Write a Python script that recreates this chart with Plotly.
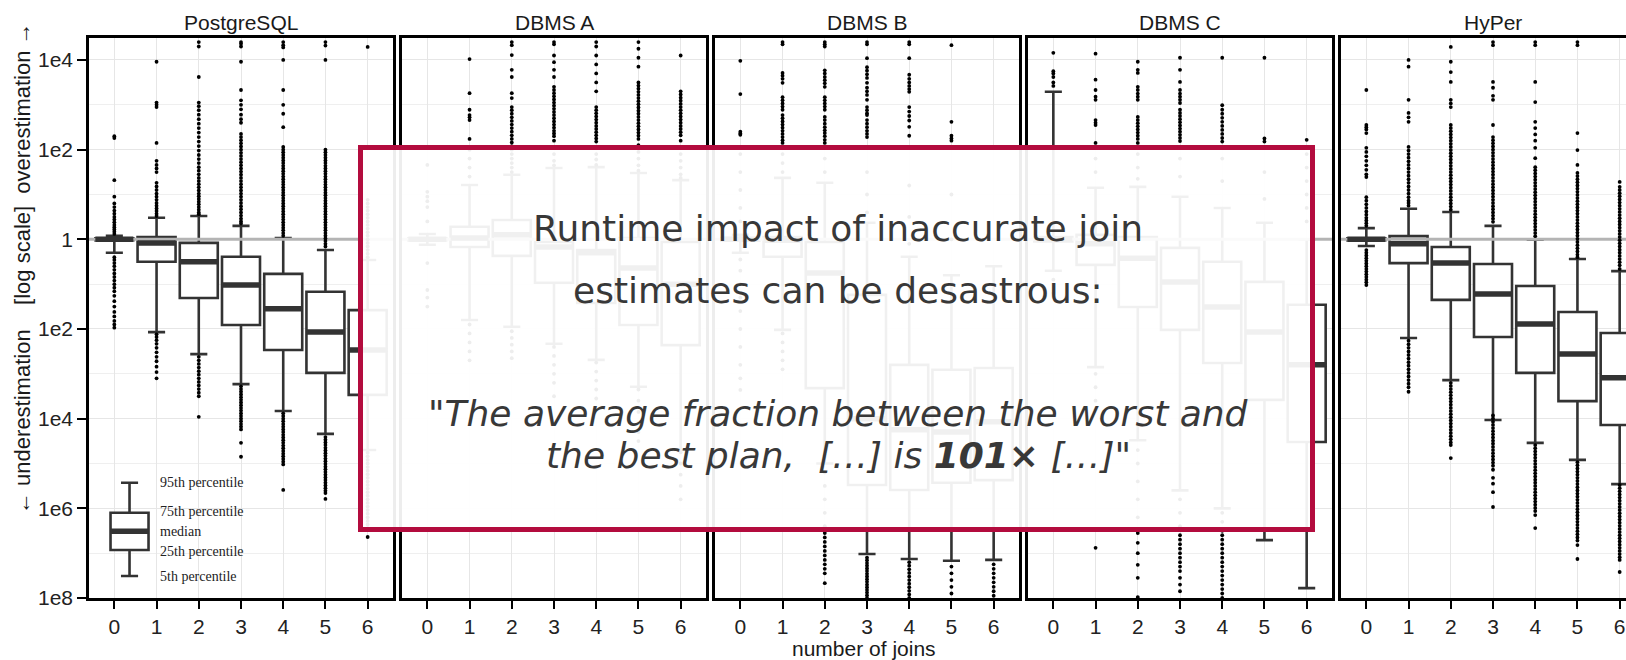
import plotly.graph_objects as go

# ---------------- data (log10 of estimate / true cardinality) ----------------
panels = ["PostgreSQL", "DBMS A", "DBMS B", "DBMS C", "HyPer"]
joins = [0, 1, 2, 3, 4, 5, 6]

pg_p05 = [-0.30, -2.07, -2.56, -3.23, -3.83, -4.34, -4.70]
pg_p25 = [-0.02, -0.50, -1.31, -1.91, -2.47, -2.98, -3.47]
pg_med = [0.00, -0.08, -0.50, -1.02, -1.55, -2.07, -2.47]
pg_p75 = [0.02, 0.05, -0.08, -0.39, -0.77, -1.17, -1.58]
pg_p95 = [0.08, 0.48, 0.52, 0.30, 0.03, -0.24, -0.46]

a_p05 = [-0.12, -1.80, -1.95, -2.33, -2.69, -3.29, -4.70]
a_p25 = [-0.02, -0.17, -0.37, -0.97, -1.42, -1.91, -2.36]
a_med = [0.00, 0.03, 0.10, -0.17, -0.30, -0.64, -1.00]
a_p75 = [0.02, 0.28, 0.43, -0.06, -0.24, 0.03, -0.06]
a_p95 = [0.12, 1.21, 1.44, 1.59, 1.61, 1.48, 1.32]

b_p05 = [-0.30, -2.02, -5.00, -7.02, -7.13, -7.17, -7.15]
b_p25 = [-0.03, -0.39, -3.32, -5.48, -5.59, -5.43, -5.37]
b_med = [0.00, -0.02, -0.75, -4.00, -4.25, -4.30, -4.07]
b_p75 = [0.03, 0.05, -0.06, -1.24, -2.80, -2.91, -2.87]
b_p95 = [0.10, 1.37, 1.26, 0.37, -0.39, -0.80, -0.60]

c_p05 = [-0.70, -2.85, -4.48, -5.60, -6.00, -6.71, -7.78]
c_p25 = [-0.05, -0.57, -1.51, -2.02, -2.76, -3.58, -4.52]
c_med = [0.00, -0.10, -0.42, -0.95, -1.51, -2.07, -2.80]
c_p75 = [0.05, 0.10, 0.05, -0.19, -0.50, -0.95, -1.46]
c_p95 = [3.29, 1.15, 1.17, 0.95, 0.70, 0.37, 0.00]

h_p05 = [-0.15, -2.20, -3.14, -4.03, -4.54, -4.92, -5.46]
h_p25 = [-0.02, -0.53, -1.35, -2.18, -2.98, -3.61, -4.14]
h_med = [0.00, -0.10, -0.53, -1.22, -1.89, -2.56, -3.09]
h_p75 = [0.02, 0.07, -0.17, -0.55, -1.04, -1.62, -2.09]
h_p95 = [0.25, 0.68, 0.61, 0.30, -0.01, -0.44, -0.71]

pg_out = [
    [2.30, 2.26, 1.32, 0.95, 0.80, 0.72, 0.64, 0.57, 0.50, 0.44, 0.38, 0.32, 0.27, 0.22, 0.17, 0.12,
     -0.40, -0.46, -0.53, -0.60, -0.68, -0.76, -0.84, -0.92, -1.00, -1.08, -1.16, -1.26, -1.38, -1.50,
     -1.62, -1.72, -1.82, -1.90, -1.97],
    [3.96, 3.05, 3.00, 2.95, 2.15, 1.75, 1.66, 1.58, 1.50, 1.26, 1.18, 1.10, 1.02, 0.95, 0.88, 0.81,
     0.75, 0.69, 0.63, 0.57, 0.52, -2.12, -2.18, -2.25, -2.33, -2.42, -2.52, -2.62, -2.72, -2.84,
     -2.96, -3.10],
    [4.40, 4.30, 3.62, 3.05, 2.97, 2.88, 2.78, 2.68, 2.58, 2.48, 2.38, 2.28, 2.18, 2.08, 1.98, 1.88,
     1.79, 1.70, 1.61, 1.53, 1.45, 1.37, 1.30, 1.23, 1.16, 1.09, 1.02, 0.96, 0.90, 0.84, 0.78, 0.72,
     0.66, 0.60, 0.56, -2.62, -2.70, -2.78, -2.86, -2.94, -3.02, -3.10, -3.18, -3.26, -3.34, -3.42,
     -3.50, -3.96],
    [4.40, 4.36, 4.30, 3.96, 3.33, 3.10, 3.00, 2.90, 2.78, 2.68, 2.60, 2.35, 2.28, 2.21, 2.14, 2.07,
     2.00, 1.93, 1.86, 1.79, 1.72, 1.65, 1.58, 1.51, 1.44, 1.37, 1.30, 1.23, 1.16, 1.09, 1.02, 0.95,
     0.88, 0.81, 0.74, 0.67, 0.60, 0.53, 0.46, 0.40, 0.35, -3.28, -3.34, -3.40, -3.46, -3.52, -3.58,
     -3.64, -3.70, -3.76, -3.82, -3.88, -3.94, -4.00, -4.06, -4.12, -4.18, -4.24, -4.54, -4.85],
    [4.40, 4.33, 4.28, 4.00, 3.33, 3.00, 2.80, 2.50, 2.06, 2.00, 1.94, 1.88, 1.82, 1.76, 1.70, 1.64,
     1.58, 1.52, 1.46, 1.40, 1.34, 1.28, 1.22, 1.16, 1.10, 1.04, 0.98, 0.92, 0.86, 0.80, 0.74, 0.68,
     0.62, 0.56, 0.50, 0.44, 0.38, 0.32, 0.26, 0.20, 0.14, 0.08, -3.88, -3.94, -4.00, -4.06, -4.12,
     -4.18, -4.24, -4.30, -4.36, -4.42, -4.48, -4.54, -4.60, -4.66, -4.72, -4.78, -4.84, -4.90,
     -4.96, -5.02, -5.59],
    [4.40, 4.32, 4.00, 2.00, 1.94, 1.88, 1.82, 1.76, 1.70, 1.64, 1.58, 1.52, 1.46, 1.40, 1.34, 1.28,
     1.22, 1.16, 1.10, 1.04, 0.98, 0.92, 0.86, 0.80, 0.74, 0.68, 0.62, 0.56, 0.50, 0.44, 0.38, 0.32,
     0.26, 0.20, 0.14, 0.08, 0.02, -0.04, -0.10, -0.16, -4.41, -4.47, -4.53, -4.59, -4.65, -4.71,
     -4.77, -4.83, -4.89, -4.95, -5.01, -5.07, -5.13, -5.19, -5.25, -5.31, -5.37, -5.43, -5.49,
     -5.55, -5.61, -5.66, -5.79],
    [4.29, 0.88, 0.80, 0.72, 0.64, 0.56, 0.48, 0.40, 0.32, 0.24, 0.16, 0.08, 0.00, -0.08, -0.16,
     -0.24, -0.32, -0.40, -4.76, -4.84, -4.92, -5.00, -5.08, -5.16, -5.24, -5.32, -5.40, -5.48,
     -5.56, -5.64, -5.72, -5.80, -5.88, -5.96, -6.04, -6.12, -6.20, -6.28, -6.36, -6.44, -6.64],
]

a_out = [
    [1.66, 1.06, 0.95, 0.85, 0.72, 0.40, -0.53, -1.13, -1.30, -1.50],
    [4.02, 3.26, 2.89, 2.77, 2.72, 2.66, 2.24, 2.00, 1.80, 1.60, 1.40, -1.90, -2.10, -2.30, -2.50,
     -2.70],
    [4.40, 4.33, 4.11, 3.78, 3.62, 3.26, 3.15, 2.95, 2.88, 2.80, 2.72, 2.64, 2.56, 2.48, 2.40, 2.32,
     2.24, 2.16, 2.08, 2.00, 1.90, 1.80, 1.70, 1.60, 1.50, -2.05, -2.20, -2.35, -2.50, -2.65],
    [4.40, 4.35, 4.10, 3.95, 3.78, 3.62, 3.40, 3.33, 3.26, 3.19, 3.12, 3.05, 2.98, 2.91, 2.84, 2.77,
     2.70, 2.63, 2.56, 2.49, 2.42, 2.36, 2.30, 2.20, 2.05, 1.90, 1.75, 1.65, -2.40, -2.60, -2.80,
     -3.00, -3.20, -3.50],
    [4.40, 4.30, 4.10, 3.90, 3.70, 3.50, 3.30, 2.95, 2.88, 2.81, 2.74, 2.67, 2.60, 2.53, 2.46, 2.39,
     2.32, 2.25, 2.18, 2.05, 1.90, 1.78, 1.66, -2.75, -2.95, -3.15, -3.35, -3.55, -3.80],
    [4.40, 4.25, 4.05, 3.85, 3.50, 3.43, 3.36, 3.29, 3.22, 3.15, 3.08, 3.01, 2.94, 2.87, 2.80, 2.73,
     2.66, 2.59, 2.52, 2.45, 2.38, 2.31, 2.24, 2.10, 1.95, 1.80, 1.65, 1.53, -3.35, -3.60, -3.85,
     -4.10, -4.30, -4.50],
    [4.10, 3.30, 3.23, 3.16, 3.09, 3.02, 2.95, 2.88, 2.81, 2.74, 2.67, 2.60, 2.53, 2.46, 2.39, 2.32,
     2.20, 2.05, 1.90, 1.75, 1.60, 1.45, 1.37, -4.75, -5.00, -5.25, -5.50, -5.80],
]

b_out = [
    [3.98, 3.24, 2.40, 2.36, 2.33, 1.90, 1.50, 1.10, 0.70, 0.40, -0.45, -0.70, -1.00, -1.30, -1.60,
     -2.00, -2.40, -2.80, -3.10, -3.36],
    [4.40, 4.35, 3.71, 3.65, 3.58, 3.49, 3.17, 3.10, 3.03, 2.96, 2.89, 2.77, 2.70, 2.63, 2.56, 2.49,
     2.42, 2.35, 2.28, 2.21, 2.15, 1.90, 1.70, 1.50, -2.10, -2.30, -2.50, -2.70, -2.90],
    [4.40, 4.35, 4.30, 3.77, 3.70, 3.62, 3.55, 3.48, 3.40, 3.17, 3.10, 3.03, 2.96, 2.89, 2.73, 2.66,
     2.58, 2.50, 2.43, 2.37, 2.30, 2.22, 2.15, 1.80, 1.50, -5.20, -5.50, -5.80, -6.10, -6.40, -6.55,
     -6.65, -6.75, -6.85, -6.95, -7.05, -7.15, -7.25, -7.35, -7.45, -7.67],
    [4.40, 4.35, 4.04, 3.84, 3.76, 3.68, 3.60, 3.49, 3.38, 3.30, 3.22, 3.11, 2.95, 2.88, 2.81, 2.77,
     2.66, 2.58, 2.50, 2.42, 2.35, 2.28, 1.50, 1.00, 0.60, -7.10, -7.16, -7.22, -7.28, -7.34, -7.40,
     -7.46, -7.52, -7.58, -7.64, -7.70, -7.76, -7.82, -7.88, -7.94, -8.00],
    [4.40, 4.35, 4.04, 3.67, 3.58, 3.50, 3.42, 3.35, 3.29, 2.95, 2.85, 2.75, 2.65, 2.51, 2.31, 1.20,
     0.50, -0.10, -7.20, -7.28, -7.36, -7.44, -7.52, -7.60, -7.68, -7.76, -7.84, -7.92, -8.00],
    [4.33, 2.62, 2.31, 2.25, 2.20, 1.00, 0.00, -7.30, -7.45, -7.60, -7.75, -7.90],
    [-7.25, -7.35, -7.45, -7.55, -7.65, -7.75, -7.85, -7.95],
]

c_out = [
    [4.16, 3.75, 3.70, 3.62, 3.50, 3.42, -0.90, -1.20],
    [4.14, 3.56, 3.33, 3.18, 3.11, 2.66, 2.60, 2.55, 2.15, 1.80, 1.50, -3.00, -3.30, -3.60, -6.88],
    [3.96, 3.78, 3.71, 3.40, 3.33, 3.25, 3.18, 3.11, 2.73, 2.66, 2.59, 2.52, 2.45, 2.38, 2.31, 2.24,
     2.15, 1.90, 1.60, 1.35, -4.70, -5.00, -5.40, -5.80, -6.20, -6.55, -6.77, -7.00, -7.26, -7.55,
     -7.98],
    [4.05, 3.78, 3.51, 3.33, 3.25, 3.18, 3.11, 3.04, 2.89, 2.82, 2.75, 2.68, 2.61, 2.54, 2.47, 2.40,
     2.33, 2.26, 2.19, 1.80, 1.40, -5.80, -6.10, -6.40, -6.60, -6.70, -6.80, -6.90, -7.00, -7.10,
     -7.20, -7.30, -7.40, -7.55, -7.70, -7.85],
    [4.05, 2.99, 2.89, 2.80, 2.71, 2.62, 2.53, 2.44, 2.35, 2.26, 2.18, 1.80, 1.30, -6.10, -6.30,
     -6.50, -6.60, -6.70, -6.80, -6.90, -7.00, -7.10, -7.20, -7.30, -7.40, -7.50, -7.60, -7.70,
     -7.80, -7.90, -8.00],
    [4.05, 2.25, 2.18, 1.50, 0.90],
    [2.22, 1.90, 1.60, 1.30, 1.00, 0.70, 0.40],
]

h_out = [
    [3.33, 2.55, 2.50, 2.45, 2.37, 2.04, 1.95, 1.85, 1.75, 1.65, 1.55, 1.45, 1.39, 0.94, 0.86, 0.78,
     0.70, 0.62, 0.55, 0.48, 0.42, 0.36, 0.30, -0.24, -0.30, -0.36, -0.42, -0.48, -0.54, -0.60,
     -0.66, -0.72, -0.78, -0.84, -0.90, -0.96, -1.02],
    [4.00, 3.85, 3.11, 2.82, 2.72, 2.62, 2.06, 1.98, 1.90, 1.82, 1.74, 1.66, 1.58, 1.50, 1.42, 1.34,
     1.26, 1.18, 1.10, 1.02, 0.94, 0.86, 0.81, 0.75, -2.26, -2.34, -2.42, -2.50, -2.58, -2.66,
     -2.74, -2.82, -2.90, -2.98, -3.06, -3.14, -3.22, -3.30, -3.40],
    [4.29, 3.96, 3.73, 3.51, 3.11, 3.03, 2.95, 2.55, 2.48, 2.41, 2.34, 2.27, 2.20, 2.13, 2.06, 1.99,
     1.92, 1.85, 1.78, 1.71, 1.64, 1.57, 1.50, 1.43, 1.36, 1.29, 1.22, 1.15, 1.08, 1.01, 0.94, 0.87,
     0.80, 0.73, 0.66, -3.20, -3.27, -3.34, -3.41, -3.48, -3.55, -3.62, -3.69, -3.76, -3.83, -3.90,
     -3.97, -4.04, -4.11, -4.18, -4.25, -4.32, -4.39, -4.46, -4.53, -4.59, -4.88],
    [4.40, 4.33, 3.51, 3.38, 3.20, 3.11, 2.55, 2.28, 2.21, 2.14, 2.07, 2.00, 1.93, 1.86, 1.79, 1.72,
     1.65, 1.58, 1.51, 1.44, 1.37, 1.30, 1.23, 1.16, 1.09, 1.02, 0.95, 0.88, 0.81, 0.74, 0.67, 0.60,
     0.53, 0.46, 0.39, -3.93, -4.00, -4.07, -4.14, -4.21, -4.28, -4.35, -4.42, -4.49, -4.56, -4.63,
     -4.70, -4.77, -4.84, -4.91, -4.98, -5.05, -5.14, -5.32, -5.45, -5.64, -5.97],
    [4.40, 4.33, 3.51, 3.06, 2.62, 2.48, 2.34, 2.20, 2.04, 1.81, 1.61, 1.54, 1.47, 1.40, 1.33, 1.26,
     1.19, 1.12, 1.05, 0.98, 0.91, 0.84, 0.77, 0.70, 0.63, 0.56, 0.49, 0.42, 0.35, 0.28, 0.21, 0.14,
     0.07, -4.59, -4.66, -4.73, -4.80, -4.87, -4.94, -5.01, -5.08, -5.15, -5.22, -5.29, -5.36,
     -5.43, -5.50, -5.57, -5.64, -5.71, -5.78, -5.85, -5.92, -5.99, -6.06, -6.15, -6.44],
    [4.40, 4.33, 2.37, 1.99, 1.66, 1.48, 1.41, 1.34, 1.27, 1.20, 1.13, 1.06, 0.99, 0.92, 0.85, 0.78,
     0.71, 0.64, 0.57, 0.50, 0.43, 0.36, 0.29, 0.22, 0.15, 0.08, 0.01, -0.06, -0.13, -0.20, -0.27,
     -0.34, -0.40, -4.97, -5.04, -5.11, -5.18, -5.25, -5.32, -5.39, -5.46, -5.53, -5.60, -5.67,
     -5.74, -5.81, -5.88, -5.95, -6.02, -6.09, -6.16, -6.23, -6.30, -6.37, -6.44, -6.51, -6.58,
     -6.65, -6.72, -6.82, -7.13],
    [1.28, 1.17, 1.10, 1.03, 0.96, 0.89, 0.82, 0.75, 0.68, 0.61, 0.54, 0.47, 0.40, 0.33, 0.26, 0.19,
     0.12, 0.05, -0.02, -0.09, -0.16, -0.23, -0.30, -0.37, -0.44, -0.51, -0.58, -0.66, -5.48, -5.55,
     -5.62, -5.69, -5.76, -5.83, -5.90, -5.97, -6.04, -6.11, -6.18, -6.25, -6.32, -6.39, -6.46,
     -6.53, -6.60, -6.67, -6.74, -6.81, -6.88, -6.95, -7.02, -7.09, -7.15, -7.42],
]

y_tick_exp = [4, 2, 0, -2, -4, -6, -8]
y_tick_text = ["1e4", "1e2", "1", "1e2", "1e4", "1e6", "1e8"]
y_minor_exp = [3, 1, -1, -3, -5, -7]

# legend glyph (log10 values) and its labels
legend_x = 0.36
legend_stats = [-7.51, -6.93, -6.51, -6.10, -5.43]  # p05, p25, median, p75, p95
legend_labels = ["5th percentile", "25th percentile", "median", "75th percentile", "95th percentile"]
legend_label_y = [-7.51, -6.97, -6.51, -6.08, -5.43]

# ---------------- figure ----------------
stats = [
    (pg_p05, pg_p25, pg_med, pg_p75, pg_p95, pg_out),
    (a_p05, a_p25, a_med, a_p75, a_p95, a_out),
    (b_p05, b_p25, b_med, b_p75, b_p95, b_out),
    (c_p05, c_p25, c_med, c_p75, c_p95, c_out),
    (h_p05, h_p25, h_med, h_p75, h_p95, h_out),
]

W, H = 1626, 660
ML, MT, MB = 89, 38, 62
PW, STEP = 304, 313
plot_w = W - ML
plot_h = H - MT - MB
XR = (-0.6, 6.6)
YR = (-8, 4.49)
DARK = "#333333"
BW = 0.9


def p10(vals):
    return [10 ** v for v in vals]


fig = go.Figure()
shapes = []
annotations = []
layout_axes = {}

for i, name in enumerate(panels):
    p05, p25, med, p75, p95, out = stats[i]
    xa = "x" if i == 0 else f"x{i+1}"
    ya = "y" if i == 0 else f"y{i+1}"

    left_px = STEP * i
    right_px = STEP * i + PW
    vis_right = min(right_px, plot_w)
    xr1 = XR[0] + (XR[1] - XR[0]) * (vis_right - left_px) / PW

    # reference line at ratio 1 (drawn under the boxes)
    fig.add_trace(go.Scatter(x=[XR[0], XR[1]], y=[1, 1], mode="lines",
                             line=dict(color="#b4b4b4", width=3),
                             xaxis=xa, yaxis=ya, hoverinfo="skip", showlegend=False))

    fig.add_trace(go.Box(
        x=joins, q1=p10(p25), median=p10(med), q3=p10(p75),
        lowerfence=p10(p05), upperfence=p10(p95),
        width=BW, whiskerwidth=0.45, boxpoints=False,
        fillcolor="white", line=dict(color=DARK, width=2.6),
        xaxis=xa, yaxis=ya, hoverinfo="skip", showlegend=False,
    ))

    mx, my = [], []
    for j, m in zip(joins, med):
        mx += [j - BW / 2, j + BW / 2, None]
        my += [10 ** m, 10 ** m, None]
    fig.add_trace(go.Scatter(x=mx, y=my, mode="lines", line=dict(color=DARK, width=5.5),
                             xaxis=xa, yaxis=ya, hoverinfo="skip", showlegend=False))

    ox, oy = [], []
    for j, vals in zip(joins, out):
        ox += [j] * len(vals)
        oy += p10(vals)
    fig.add_trace(go.Scatter(x=ox, y=oy, mode="markers",
                             marker=dict(color="black", size=3.8, line=dict(width=0)),
                             xaxis=xa, yaxis=ya, hoverinfo="skip", showlegend=False))

    d0 = left_px / plot_w
    d1 = vis_right / plot_w
    key = "" if i == 0 else str(i + 1)
    layout_axes[f"xaxis{key}"] = dict(
        domain=[d0, d1], anchor=ya, range=[XR[0], xr1], tickmode="array", tickvals=joins,
        ticktext=[str(j) for j in joins], ticks="outside", ticklen=8, tickwidth=2,
        tickcolor="black", showline=True, linecolor="black", linewidth=2.5, mirror=True,
        showgrid=True, gridcolor="#e6e6e6", gridwidth=1.3, zeroline=False,
        tickfont=dict(family="Liberation Sans, Arial, sans-serif", size=21, color="#222"),
    )
    layout_axes[f"yaxis{key}"] = dict(
        domain=[0, 1], anchor=xa, type="log", range=list(YR), tickmode="array",
        tickvals=[10 ** e for e in y_tick_exp], ticktext=y_tick_text,
        showticklabels=(i == 0), ticks="outside" if i == 0 else "", ticklen=9, tickwidth=2,
        tickcolor="black", showline=True, linecolor="black", linewidth=2.5,
        mirror=(i < 4), showgrid=True, gridcolor="#e6e6e6", gridwidth=1.3, zeroline=False,
        minor=dict(tickmode="array", tickvals=[10 ** e for e in y_minor_exp], showgrid=True,
                   gridcolor="#efefef", gridwidth=1, ticks=""),
        tickfont=dict(family="Liberation Sans, Arial, sans-serif", size=21, color="#222"),
    )

    # facet title
    annotations.append(dict(text=name, xref="paper", yref="paper",
                            x=(left_px + PW / 2) / plot_w, y=(plot_h + 16) / plot_h,
                            xanchor="center", yanchor="middle", showarrow=False,
                            font=dict(family="Liberation Sans, Arial, sans-serif", size=21,
                                      color="#1a1a1a")))

# legend glyph in the PostgreSQL panel
fig.add_trace(go.Box(
    x=[legend_x], q1=[10 ** legend_stats[1]], median=[10 ** legend_stats[2]],
    q3=[10 ** legend_stats[3]], lowerfence=[10 ** legend_stats[0]],
    upperfence=[10 ** legend_stats[4]], width=BW, whiskerwidth=0.45, boxpoints=False,
    fillcolor="white", line=dict(color=DARK, width=2.6), xaxis="x", yaxis="y",
    hoverinfo="skip", showlegend=False))
fig.add_trace(go.Scatter(x=[legend_x - BW / 2, legend_x + BW / 2],
                         y=[10 ** legend_stats[2]] * 2, mode="lines",
                         line=dict(color=DARK, width=5.5), xaxis="x", yaxis="y",
                         hoverinfo="skip", showlegend=False))
for lab, ly in zip(legend_labels, legend_label_y):
    annotations.append(dict(text=lab, xref="x", yref="y", x=1.03, y=ly, xanchor="left",
                            yanchor="middle", showarrow=False,
                            font=dict(family="Liberation Serif, Times New Roman, serif",
                                      size=14, color="#222")))

# axis titles
annotations.append(dict(text="number of joins", xref="paper", yref="paper",
                        x=(864 - ML) / plot_w, y=-50 / plot_h, xanchor="center",
                        yanchor="middle", showarrow=False,
                        font=dict(family="Liberation Sans, Arial, sans-serif", size=21,
                                  color="#1a1a1a")))
annotations.append(dict(
    text="\u2190 underestimation\u00a0\u00a0\u00a0\u00a0[log scale]\u00a0\u00a0overestimation \u2192",
    xref="paper", yref="paper", x=(22 - ML) / plot_w, y=(H - MB - 268) / plot_h,
    xanchor="center", yanchor="middle", textangle=-90, showarrow=False,
    font=dict(family="Liberation Sans, Arial, sans-serif", size=22, color="#1a1a1a")))


# overlay call-out box
def px_x(px):
    return (px - ML) / plot_w


def px_y(py):
    return (H - MB - py) / plot_h


shapes.append(dict(type="rect", xref="paper", yref="paper",
                   x0=px_x(360.5), x1=px_x(1312.5), y0=px_y(529.5), y1=px_y(147.5),
                   line=dict(color="#b30c3e", width=5), fillcolor="rgba(255,255,255,0.93)",
                   layer="above"))

TXT = dict(family="DejaVu Sans, Verdana, sans-serif", size=36, color="#383838")
cx = px_x(838)
annotations += [
    dict(text="Runtime impact of inaccurate join", x=cx, y=px_y(228)),
    dict(text="estimates can be desastrous:", x=cx, y=px_y(290)),
    dict(text="<i>\"The average fraction between the worst and</i>", x=cx, y=px_y(413)),
    dict(text="<i>the best plan, \u00a0[\u2026] is <b>101\u00d7</b> [\u2026]\"</i>", x=cx,
         y=px_y(455)),
]
for a in annotations[-4:]:
    a.update(xref="paper", yref="paper", xanchor="center", yanchor="middle",
             showarrow=False, font=TXT)

fig.update_layout(
    width=W, height=H, autosize=False,
    margin=dict(l=ML, r=0, t=MT, b=MB, pad=0),
    paper_bgcolor="white", plot_bgcolor="white",
    showlegend=False, boxmode="overlay",
    shapes=shapes, annotations=annotations,
    **layout_axes,
)

fig.write_html("out.html")
